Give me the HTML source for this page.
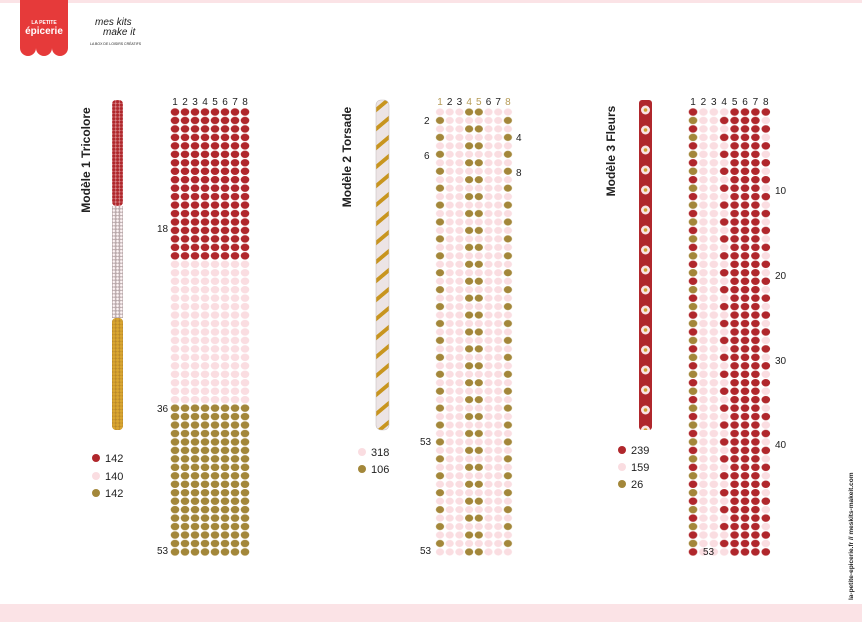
<!DOCTYPE html>
<html><head><meta charset="utf-8"><style>
body{margin:0;background:#fff}
svg{display:block}
text{font-family:"Liberation Sans",sans-serif}
</style></head><body>
<svg width="862" height="622" viewBox="0 0 862 622" xmlns="http://www.w3.org/2000/svg">
<defs>
<pattern id="pr" patternUnits="userSpaceOnUse" x="170" y="107.8" width="10" height="8.46"><ellipse cx="5" cy="4.23" rx="4.3" ry="3.7" fill="#b0272c"/></pattern>
<pattern id="pp" patternUnits="userSpaceOnUse" x="170" y="107.8" width="10" height="8.46"><ellipse cx="5" cy="4.23" rx="4.3" ry="3.7" fill="#fadde1"/></pattern>
<pattern id="pg" patternUnits="userSpaceOnUse" x="170" y="107.8" width="10" height="8.46"><ellipse cx="5" cy="4.23" rx="4.3" ry="3.7" fill="#a3873a"/></pattern>
<pattern id="p2" patternUnits="userSpaceOnUse" x="435.15" y="107.8" width="77.6" height="16.92">
<g fill="#fadde1">
<ellipse cx="4.85" cy="4.23" rx="4.1" ry="3.6"/><ellipse cx="14.55" cy="4.23" rx="4.1" ry="3.6"/><ellipse cx="24.25" cy="4.23" rx="4.1" ry="3.6"/><ellipse cx="53.35" cy="4.23" rx="4.1" ry="3.6"/><ellipse cx="63.05" cy="4.23" rx="4.1" ry="3.6"/><ellipse cx="72.75" cy="4.23" rx="4.1" ry="3.6"/>
<ellipse cx="14.55" cy="12.69" rx="4.1" ry="3.6"/><ellipse cx="24.25" cy="12.69" rx="4.1" ry="3.6"/><ellipse cx="33.95" cy="12.69" rx="4.1" ry="3.6"/><ellipse cx="43.65" cy="12.69" rx="4.1" ry="3.6"/><ellipse cx="53.35" cy="12.69" rx="4.1" ry="3.6"/><ellipse cx="63.05" cy="12.69" rx="4.1" ry="3.6"/>
</g>
<g fill="#a3873a">
<ellipse cx="33.95" cy="4.23" rx="4.1" ry="3.6"/><ellipse cx="43.65" cy="4.23" rx="4.1" ry="3.6"/>
<ellipse cx="4.85" cy="12.69" rx="4.1" ry="3.6"/><ellipse cx="72.75" cy="12.69" rx="4.1" ry="3.6"/>
</g>
</pattern>
<pattern id="p3" patternUnits="userSpaceOnUse" x="687.8" y="107.8" width="83.2" height="16.92">
<g fill="#b0272c">
<ellipse cx="5.2" cy="4.23" rx="4.3" ry="3.7"/><ellipse cx="46.8" cy="4.23" rx="4.3" ry="3.7"/><ellipse cx="57.2" cy="4.23" rx="4.3" ry="3.7"/><ellipse cx="67.6" cy="4.23" rx="4.3" ry="3.7"/><ellipse cx="78" cy="4.23" rx="4.3" ry="3.7"/>
<ellipse cx="36.4" cy="12.69" rx="4.3" ry="3.7"/><ellipse cx="46.8" cy="12.69" rx="4.3" ry="3.7"/><ellipse cx="57.2" cy="12.69" rx="4.3" ry="3.7"/><ellipse cx="67.6" cy="12.69" rx="4.3" ry="3.7"/>
</g>
<g fill="#fadde1">
<ellipse cx="15.6" cy="4.23" rx="4.3" ry="3.7"/><ellipse cx="26" cy="4.23" rx="4.3" ry="3.7"/><ellipse cx="36.4" cy="4.23" rx="4.3" ry="3.7"/>
<ellipse cx="15.6" cy="12.69" rx="4.3" ry="3.7"/><ellipse cx="26" cy="12.69" rx="4.3" ry="3.7"/><ellipse cx="78" cy="12.69" rx="4.3" ry="3.7"/>
</g>
<ellipse cx="5.2" cy="12.69" rx="4.3" ry="3.7" fill="#a3873a"/>
</pattern>
<pattern id="sr" patternUnits="userSpaceOnUse" x="112" y="100" width="3.7" height="3.4"><rect width="3.7" height="3.4" fill="#d98a8d"/><circle cx="1.85" cy="1.7" r="1.6" fill="#b0272c"/></pattern>
<pattern id="sp" patternUnits="userSpaceOnUse" x="112" y="100" width="3.7" height="3.4"><rect width="3.7" height="3.4" fill="#b8a8aa"/><circle cx="1.85" cy="1.7" r="1.3" fill="#fdf3f4"/></pattern>
<pattern id="sg" patternUnits="userSpaceOnUse" x="112" y="100" width="3.7" height="3.4"><rect width="3.7" height="3.4" fill="#b8862a"/><circle cx="1.85" cy="1.7" r="1.6" fill="#d9a630"/></pattern>
<pattern id="s2" patternUnits="userSpaceOnUse" x="376" y="100" width="13" height="19" patternTransform="skewY(-40)"><rect width="13" height="19" fill="#ece4e5"/><rect y="0" width="13" height="5" fill="#c8951f"/></pattern>
<pattern id="s3" patternUnits="userSpaceOnUse" x="639" y="100" width="13" height="20"><rect width="13" height="20" fill="#b0272c"/><circle cx="6.5" cy="10" r="4.5" fill="#f8e4e4"/><circle cx="6.5" cy="10" r="1.8" fill="#d1a02e"/></pattern>
</defs>

<rect x="0" y="0" width="862" height="3" fill="#fbe3e6"/>
<rect x="0" y="604" width="862" height="18" fill="#fbe3e6"/>

<!-- logo -->
<path d="M20 0 H68 V48 a8 8 0 0 1 -16 0 a8 8 0 0 1 -16 0 a8 8 0 0 1 -16 0 Z" fill="#e63a3a"/>
<text x="44" y="24" font-size="5" fill="#fff" text-anchor="middle" font-weight="bold">LA PETITE</text>
<text x="44" y="34" font-size="10" fill="#fff" text-anchor="middle" font-weight="bold">épicerie</text>
<text x="95" y="25" font-size="10" font-style="italic" fill="#222" font-family="Liberation Serif">mes kits</text>
<text x="103" y="35" font-size="10" font-style="italic" fill="#222" font-family="Liberation Serif">make it</text>
<text x="90" y="45" font-size="3.5" fill="#222">LA BOX DE LOISIRS CRÉATIFS</text>

<!-- titles -->
<text transform="translate(90,160) rotate(-90)" font-size="12" font-weight="bold" text-anchor="middle" fill="#222">Modèle 1 Tricolore</text>
<text transform="translate(351,157) rotate(-90)" font-size="12" font-weight="bold" text-anchor="middle" fill="#222">Modèle 2 Torsade</text>
<text transform="translate(615,151) rotate(-90)" font-size="12" font-weight="bold" text-anchor="middle" fill="#222">Modèle 3 Fleurs</text>

<!-- strips -->
<rect x="112" y="100" width="11" height="106" rx="4" fill="url(#sr)"/>
<rect x="112" y="206" width="11" height="112" fill="url(#sp)"/>
<rect x="112" y="318" width="11" height="112" rx="4" fill="url(#sg)"/>
<rect x="376" y="100" width="13" height="330" rx="5" fill="url(#s2)" stroke="#c8c0c0" stroke-width="0.6"/>
<rect x="639" y="100" width="13" height="330" rx="3" fill="url(#s3)"/>

<!-- grids -->
<rect x="170" y="107.8" width="80" height="152.3" fill="url(#pr)"/>
<rect x="170" y="260.1" width="80" height="143.8" fill="url(#pp)"/>
<rect x="170" y="403.9" width="80" height="152.3" fill="url(#pg)"/>
<rect x="435.15" y="107.8" width="77.6" height="448.4" fill="url(#p2)"/>
<rect x="687.8" y="107.8" width="83.2" height="448.4" fill="url(#p3)"/>

<!-- column numbers -->
<g font-size="10" fill="#222" text-anchor="middle">
<text x="175" y="105">1</text><text x="185" y="105">2</text><text x="195" y="105">3</text><text x="205" y="105">4</text><text x="215" y="105">5</text><text x="225" y="105">6</text><text x="235" y="105">7</text><text x="245" y="105">8</text>
<text x="440" y="105" fill="#b59a55">1</text><text x="449.7" y="105">2</text><text x="459.4" y="105">3</text><text x="469.1" y="105" fill="#b59a55">4</text><text x="478.8" y="105" fill="#b59a55">5</text><text x="488.5" y="105">6</text><text x="498.2" y="105">7</text><text x="507.9" y="105" fill="#b59a55">8</text>
<text x="693" y="105">1</text><text x="703.4" y="105">2</text><text x="713.8" y="105">3</text><text x="724.2" y="105">4</text><text x="734.6" y="105">5</text><text x="745" y="105">6</text><text x="755.4" y="105">7</text><text x="765.8" y="105">8</text>
</g>

<!-- row labels -->
<g font-size="10" fill="#222">
<text x="157" y="232">18</text><text x="157" y="412">36</text><text x="157" y="554">53</text>
<text x="424" y="124">2</text><text x="424" y="159">6</text><text x="420" y="445">53</text><text x="420" y="554">53</text>
<text x="516" y="141">4</text><text x="516" y="176">8</text>
<text x="775" y="194">10</text><text x="775" y="279">20</text><text x="775" y="364">30</text><text x="775" y="448">40</text><text x="703" y="555">53</text>
</g>

<!-- legends -->
<g font-size="11" fill="#222">
<circle cx="96" cy="458" r="4" fill="#b0272c"/><text x="105" y="462">142</text>
<circle cx="96" cy="476" r="4" fill="#fadde1"/><text x="105" y="480">140</text>
<circle cx="96" cy="493" r="4" fill="#a3873a"/><text x="105" y="497">142</text>
<circle cx="362" cy="452" r="4" fill="#fadde1"/><text x="371" y="456">318</text>
<circle cx="362" cy="469" r="4" fill="#a3873a"/><text x="371" y="473">106</text>
<circle cx="622" cy="450" r="4" fill="#b0272c"/><text x="631" y="454">239</text>
<circle cx="622" cy="467" r="4" fill="#fadde1"/><text x="631" y="471">159</text>
<circle cx="622" cy="484" r="4" fill="#a3873a"/><text x="631" y="488">26</text>
</g>

<text transform="translate(853,600) rotate(-90)" font-size="6.5" font-weight="bold" fill="#222">la-petite-epicerie.fr // meskits-makeit.com</text>
</svg>
</body></html>
